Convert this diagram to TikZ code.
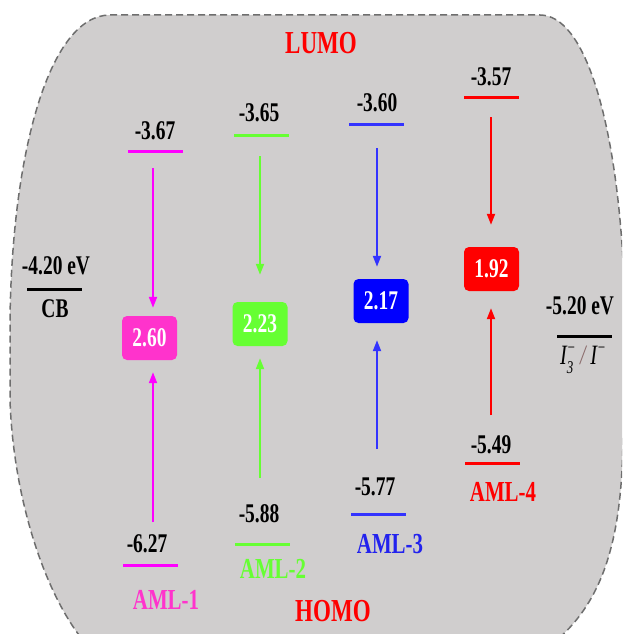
\documentclass[tikz,border=0pt]{standalone}
\usepackage{fontspec}
\setmainfont{Liberation Serif}[FakeStretch=0.72]
\usetikzlibrary{arrows.meta}
\definecolor{bgc}{HTML}{D0CECE}
\definecolor{bordc}{HTML}{6E6E6E}
\definecolor{magl}{HTML}{FF00FF}
\definecolor{magb}{HTML}{FF33CC}
\definecolor{grn}{HTML}{66FF33}
\definecolor{blul}{HTML}{3333FF}
\definecolor{blub}{HTML}{0000FF}
\definecolor{blut}{HTML}{2222EE}
\definecolor{redc}{HTML}{FF0000}
\definecolor{slashc}{HTML}{8A6A6A}
\begin{document}
\begin{tikzpicture}[x=1pt,y=-1pt,
  val/.style={inner sep=0pt,font=\fontsize{27}{30}\selectfont\bfseries},
  big/.style={inner sep=0pt,font=\fontsize{32}{36}\selectfont\bfseries,text=redc},
  aml/.style={inner sep=0pt,font=\fontsize{29}{32}\selectfont\bfseries,text=#1},
  lvl/.style={inner sep=0pt,minimum width=55pt,minimum height=3pt,fill=#1},
  gapbox/.style={rounded corners=5pt,fill=#1,minimum width=55pt,minimum height=44pt,inner sep=0pt,text=white,font=\fontsize{27}{30}\selectfont\bfseries},
  arr/.style={draw=#1,line width=2pt,-{Triangle[width=8pt,length=11pt]}},
]
\useasboundingbox (0,0) rectangle (622,634);
\begin{scope}
\clip (0,0) rectangle (622,634);
\draw[fill=bgc,draw=bordc,line width=1.5pt,dash pattern=on 7pt off 4pt]
  (110,15) -- (540,15) .. controls (585,15) and (615,120) .. (623,260)
  -- (623,430) .. controls (623,560) and (595,625) .. (520,665)
  -- (110,665) .. controls (60,635) and (14,520) .. (10,400)
  -- (10,320) .. controls (12,150) and (50,15) .. (110,15) -- cycle;
\end{scope}

% titles
\node[big] (lumo) at (321,43) {LUMO};
\node[big] (homo) at (333,611) {HOMO};

% CB
\node[val] (cbv) at (56,266) {-4.20 eV};
\node[lvl=black] (cbl) at (54.5,289) {};
\node[val] (cbt) at (55,309) {CB};

% redox
\node[val] (rdv) at (580,306) {-5.20 eV};
\node[lvl=black] (rdl) at (584.5,336) {};
\node[inner sep=0pt,font=\fontsize{28}{30}\selectfont\itshape] (rdt) at (583,360)
  {I\rlap{\raisebox{-0.3em}{\fontsize{18}{18}\selectfont 3}}\raisebox{0.4em}{\fontsize{18}{18}\selectfont −}\,\textcolor{slashc}{/}\,I\raisebox{0.4em}{\fontsize{18}{18}\selectfont −}};

% AML-1
\node[val] (v1u) at (155,131) {-3.67};
\node[lvl=magl] (l1u) at (155.5,151) {};
\node[gapbox=magb] (b1) at (149.5,338) {2.60};
\node[val] (v1d) at (147,544) {-6.27};
\node[lvl=magl] (l1d) at (150,565) {};
\node[aml=magb] (n1) at (166,600) {AML-1};
\coordinate (a1s) at (153,168);
\coordinate (a1e) at (153,522);
\draw[arr=magl,shorten >=8pt] (a1s) -- (a1s |- b1.north);
\draw[arr=magl,shorten >=12pt] (a1e) -- (a1e |- b1.south);

% AML-2
\node[val] (v2u) at (259,113) {-3.65};
\node[lvl=grn] (l2u) at (261.5,135) {};
\node[gapbox=grn] (b2) at (260,324) {2.23};
\node[val] (v2d) at (259,514) {-5.88};
\node[lvl=grn] (l2d) at (262.5,544) {};
\node[aml=grn] (n2) at (273,569) {AML-2};
\coordinate (a2s) at (260,156);
\coordinate (a2e) at (260,478);
\draw[arr=grn,shorten >=27pt] (a2s) -- (a2s |- b2.north);
\draw[arr=grn,shorten >=12pt] (a2e) -- (a2e |- b2.south);

% AML-3
\node[val] (v3u) at (377,103) {-3.60};
\node[lvl=blul] (l3u) at (376.5,124) {};
\node[gapbox=blub] (b3) at (381,301) {2.17};
\node[val] (v3d) at (375,487) {-5.77};
\node[lvl=blul] (l3d) at (378,514) {};
\node[aml=blut] (n3) at (390,544) {AML-3};
\coordinate (a3s) at (377,148);
\coordinate (a3e) at (377,449);
\draw[arr=blul,shorten >=12pt] (a3s) -- (a3s |- b3.north);
\draw[arr=blul,shorten >=17pt] (a3e) -- (a3e |- b3.south);

% AML-4
\node[val] (v4u) at (491,77) {-3.57};
\node[lvl=redc] (l4u) at (491.5,97) {};
\node[gapbox=redc] (b4) at (491.5,269) {1.92};
\node[val] (v4d) at (491,445) {-5.49};
\node[lvl=redc] (l4d) at (492.5,463) {};
\node[aml=redc] (n4) at (503,492) {AML-4};
\coordinate (a4s) at (491,117);
\coordinate (a4e) at (491,415);
\draw[arr=redc,shorten >=22pt] (a4s) -- (a4s |- b4.north);
\draw[arr=redc,shorten >=17pt] (a4e) -- (a4e |- b4.south);
\end{tikzpicture}
\end{document}
